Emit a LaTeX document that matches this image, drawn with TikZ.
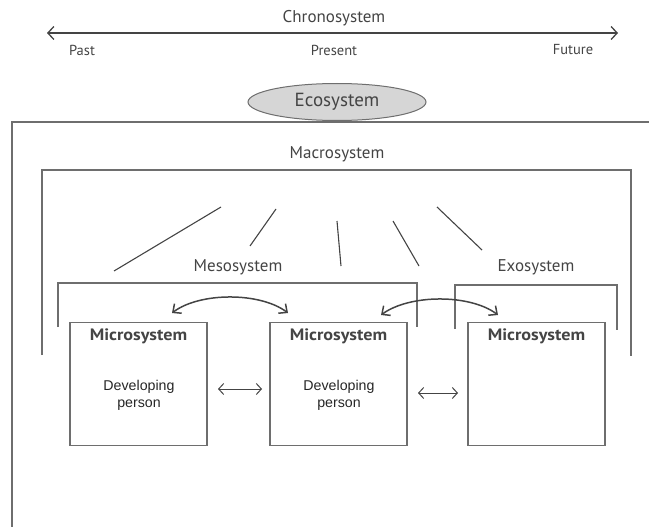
\documentclass[tikz,border=0pt]{standalone}
\usepackage{fontspec}
\setmainfont{PT Sans}
\newfontfamily\arialfont{Liberation Sans}
\newfontfamily\titlefont[FakeStretch=1.1]{PT Sans}
\usetikzlibrary{arrows.meta,shapes.geometric}
\definecolor{linegray}{HTML}{6E6E6E}
\definecolor{textgray}{HTML}{444444}
\definecolor{ellfill}{HTML}{D6D6D6}
\tikzset{
  frame/.style={draw=linegray, line width=1.4pt},
  ray/.style={draw=textgray, line width=1.1pt},
  lbl/.style={text=textgray, inner sep=0pt, font=\fontsize{17}{20}\selectfont},
  smalllbl/.style={text=textgray, inner sep=0pt, font=\fontsize{14.5}{17}\selectfont},
  microbox/.style={draw=linegray, line width=1.4pt, minimum width=137pt, minimum height=123pt, inner sep=0pt},
  microtitle/.style={text=textgray, inner sep=0pt, font=\titlefont\bfseries\fontsize{16.5}{19}\selectfont},
  devtext/.style={text=black!85, inner sep=0pt, align=center, font=\arialfont\fontsize{14.2}{17}\selectfont},
  curvearrow/.style={draw=textgray, line width=1.5pt, {Straight Barb[length=6.5pt,width=12pt]}-{Straight Barb[length=6.5pt,width=12pt]}},
  linkarrow/.style={draw=textgray, line width=1pt, {Straight Barb[length=5pt,width=11pt]}-{Straight Barb[length=5pt,width=11pt]}}
}
\begin{document}
\begin{tikzpicture}[x=1pt,y=-1pt]
\useasboundingbox (0,0) rectangle (649,527);
% Chronosystem
\node[lbl] (chrono) at (334,18) {Chronosystem};
\coordinate (pastend) at (47,33);
\coordinate (futend) at (618,33);
\draw[draw=textgray, line width=1.3pt, {Straight Barb[length=6pt,width=13pt]}-{Straight Barb[length=6pt,width=13pt]}] (pastend) -- (futend);
\node[smalllbl] (past) at (82,50) {Past};
\node[smalllbl] (present) at (334,50) {Present};
\node[smalllbl] (future) at (573,50) {Future};
% Ecosystem
\node[draw=linegray, line width=1pt, fill=ellfill, ellipse, minimum width=178pt, minimum height=37pt, inner sep=0pt, text=textgray, font=\fontsize{19}{22}\selectfont] (eco) at (337,102) {Ecosystem};
\draw[frame] (12,527) -- (12,122) -- (649,122);
% Macrosystem
\node[lbl] (macro) at (337,154) {Macrosystem};
\draw[frame] (42,355) -- (42,170) -- (631,170) -- (631,356);
% rays
\draw[ray] (221,207) -- (114,271);
\draw[ray] (276,209) -- (250,246);
\draw[ray] (337,221) -- (341,266);
\draw[ray] (393,221) -- (419,266);
\draw[ray] (437,207) -- (482,250);
% Mesosystem / Exosystem
\node[lbl] (meso) at (238,267) {Mesosystem};
\node[lbl] (exo) at (536,267) {Exosystem};
\draw[frame] (58,327) -- (58,283) -- (417,283) -- (417,327);
\draw[frame] (455,329) -- (455,285) -- (617,285) -- (617,330);
% Microsystems
\node[microbox] (m1) at (138.5,384) {};
\node[microbox] (m2) at (338.5,384) {};
\node[microbox] (m3) at (536.5,384) {};
\node[microtitle] (t1) at (138.5,336) {Microsystem};
\node[microtitle] (t2) at (338.5,336) {Microsystem};
\node[microtitle] (t3) at (536.5,336) {Microsystem};
\node[devtext] (d1) at (139,395.5) {Developing\\person};
\node[devtext] (d2) at (339,395.5) {Developing\\person};
% links
\coordinate (a1s) at (172,313);
\coordinate (a1e) at (288,313);
\draw[curvearrow] (a1s) .. controls (200,292) and (260,292) .. (a1e);
\coordinate (a2s) at (381,315);
\coordinate (a2e) at (498,315);
\draw[curvearrow] (a2s) .. controls (410,294) and (470,294) .. (a2e);
\coordinate (l1s) at (218,389);
\coordinate (l1e) at (262,389);
\coordinate (l2s) at (418,393);
\coordinate (l2e) at (458,393);
\draw[linkarrow] (l1s) -- (l1e);
\draw[linkarrow] (l2s) -- (l2e);
\end{tikzpicture}
\end{document}
